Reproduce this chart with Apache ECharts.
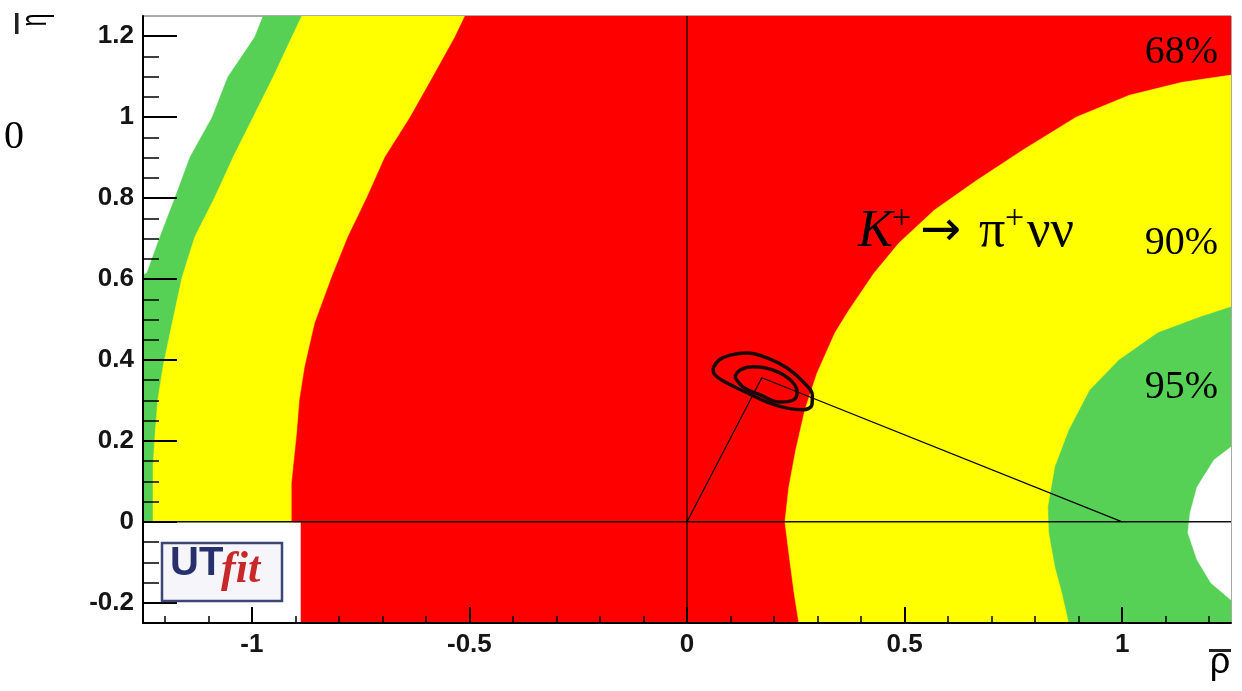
<!DOCTYPE html>
<html>
<head>
<meta charset="utf-8">
<script src="https://cdn.jsdelivr.net/npm/echarts@6/dist/echarts.min.js"></script>
<style>
  html, body { margin: 0; padding: 0; background: #fff; }
  #chart { width: 1242px; height: 691px; }
</style>
</head>
<body>
<div id="chart"></div>
<script>
// axis ranges (rho-bar, eta-bar)
const xRange = [-1.25, 1.25];
const yRange = [-0.25, 1.25];

// tick positions
const xMajorTicks = [-1, -0.5, 0, 0.5, 1];
const xMinorTicks = [-1.2, -1.1, -1, -0.9, -0.8, -0.7, -0.6, -0.5, -0.4, -0.3, -0.2, -0.1, 0,
  0.1, 0.2, 0.3, 0.4, 0.5, 0.6, 0.7, 0.8, 0.9, 1, 1.1, 1.2];
const yMajorTicks = [-0.2, 0, 0.2, 0.4, 0.6, 0.8, 1, 1.2];
const yMinorTicks = [-0.2, -0.15, -0.1, -0.05, 0, 0.05, 0.1, 0.15, 0.2, 0.25, 0.3, 0.35, 0.4,
  0.45, 0.5, 0.55, 0.6, 0.65, 0.7, 0.75, 0.8, 0.85, 0.9, 0.95, 1, 1.05, 1.1, 1.15, 1.2];

// K+ -> pi+ nu nu probability bands, boundaries
// left side (eta >= 0): white | green | yellow | red
const green95Left = [[-0.974, 1.25], [-0.993, 1.198], [-1.055, 1.099], [-1.091, 1.0], [-1.142, 0.901],
  [-1.176, 0.802], [-1.211, 0.704], [-1.241, 0.615], [-1.25, 0.61]];
const yellow90Left = [[-0.885, 1.25], [-0.908, 1.198], [-0.951, 1.099], [-0.997, 1.0], [-1.043, 0.901],
  [-1.085, 0.802], [-1.131, 0.704], [-1.16, 0.605], [-1.183, 0.491], [-1.204, 0.383], [-1.216, 0.301],
  [-1.222, 0.22], [-1.227, 0.136], [-1.227, 0]];
const red68Left = [[-0.51, 1.25], [-0.533, 1.198], [-0.584, 1.099], [-0.636, 1.0], [-0.694, 0.901],
  [-0.735, 0.802], [-0.779, 0.704], [-0.816, 0.605], [-0.855, 0.491], [-0.878, 0.383], [-0.89, 0.301],
  [-0.896, 0.22], [-0.908, 0.096], [-0.908, 0], [-0.887, 0], [-0.887, -0.25]];
// right side: red | yellow | green | white
const red68Right = [[1.25, 1.104], [1.137, 1.086], [1.016, 1.054], [0.894, 1.0], [0.772, 0.919],
  [0.666, 0.844], [0.568, 0.77], [0.487, 0.689], [0.43, 0.615], [0.372, 0.523], [0.34, 0.467],
  [0.299, 0.368], [0.271, 0.277], [0.25, 0.178], [0.234, 0.086], [0.225, 0], [0.234, -0.077],
  [0.246, -0.175], [0.257, -0.25]];
const yellow90Right = [[1.25, 0.531], [1.179, 0.506], [1.082, 0.467], [0.993, 0.4], [0.926, 0.326],
  [0.878, 0.227], [0.846, 0.136], [0.83, 0.037], [0.832, -0.027], [0.846, -0.111], [0.862, -0.175],
  [0.878, -0.25]];
const green95Right = [[1.25, 0.185], [1.211, 0.153], [1.172, 0.086], [1.156, 0.022], [1.151, -0.027],
  [1.172, -0.094], [1.204, -0.151], [1.25, -0.193]];

// UTfit contours (two closed curves)
const fitOuter = [[0.06, 0.38], [0.074, 0.4], [0.099, 0.412], [0.138, 0.417], [0.184, 0.405],
  [0.23, 0.38], [0.267, 0.346], [0.288, 0.312], [0.287, 0.289], [0.267, 0.277], [0.23, 0.281],
  [0.184, 0.296], [0.138, 0.319], [0.092, 0.343], [0.064, 0.363], [0.06, 0.38]];
const fitInner = [[0.11, 0.358], [0.122, 0.375], [0.152, 0.383], [0.198, 0.375], [0.237, 0.351],
  [0.253, 0.321], [0.244, 0.301], [0.214, 0.296], [0.168, 0.314], [0.129, 0.333], [0.11, 0.358]];

// unitarity triangle
const triangle = [[0, 0], [0.172, 0.356], [1, 0]];

const RED = '#ff0000';
const YELLOW = '#ffff00';
const GREEN = '#56d156';

// area to the right of a boundary, closed along the plot edge
const toRight = (pts, yLow) => pts.concat([[xRange[1], yLow], [xRange[1], pts[0][1]]]);

function bandSeries(points, color) {
  return {
    type: 'custom',
    coordinateSystem: 'cartesian2d',
    xAxisIndex: 0,
    yAxisIndex: 0,
    silent: true,
    clip: true,
    z: 1,
    data: [[0, 0]],
    renderItem: function(params, api) {
      return {
        type: 'polygon',
        shape: { points: points.map(p => api.coord(p)) },
        style: { fill: color, stroke: color, lineWidth: 0.5 },
      };
    },
  };
}

function lineSeries(data, color, width, smooth) {
  return {
    type: 'line',
    xAxisIndex: 0,
    yAxisIndex: 0,
    data: data,
    smooth: smooth || false,
    showSymbol: false,
    symbol: 'none',
    silent: true,
    z: 4,
    lineStyle: { color: color, width: width },
  };
}

const labelFont = {
  fontFamily: 'Liberation Sans',
  fontWeight: 'bold',
  fontSize: 26,
  color: '#151515',
};

function txt(x, y, text, font, align, extra) {
  return Object.assign({
    type: 'text', z: 20, x: x, y: y,
    style: {
      text: text, font: font, fill: '#000',
      align: align, verticalAlign: 'middle', textAlign: align, textVerticalAlign: 'middle',
    },
  }, extra || {});
}

const chart = echarts.init(document.getElementById('chart'));
const option = {
  backgroundColor: '#fff',
  animation: false,
  grid: {
    left: 143,
    top: 16,
    right: 11,
    bottom: 68,
    show: true,
    backgroundColor: '#fff',
    borderColor: '#555',
    borderWidth: 1,
    containLabel: false,
    outerBoundsMode: 'none',
  },
  xAxis: [
    {
      type: 'value',
      min: xRange[0],
      max: xRange[1],
      position: 'bottom',
      z: 10,
      axisLine: { show: true, onZero: false, lineStyle: { color: '#000', width: 2 } },
      axisTick: { show: true, inside: true, length: 16, customValues: xMajorTicks, lineStyle: { color: '#000', width: 2 } },
      axisLabel: Object.assign({ customValues: xMajorTicks, margin: 9 }, labelFont),
      splitLine: { show: false },
    },
    {
      type: 'value',
      min: xRange[0],
      max: xRange[1],
      position: 'bottom',
      z: 10,
      axisLine: { show: false, onZero: false },
      axisTick: { show: true, inside: true, length: 7, customValues: xMinorTicks, lineStyle: { color: '#000', width: 1.5 } },
      axisLabel: { show: false },
      splitLine: { show: false },
    },
  ],
  yAxis: [
    {
      type: 'value',
      min: yRange[0],
      max: yRange[1],
      position: 'left',
      z: 10,
      axisLine: { show: true, onZero: false, lineStyle: { color: '#000', width: 2 } },
      axisTick: { show: true, inside: true, length: 34, customValues: yMajorTicks, lineStyle: { color: '#000', width: 2 } },
      axisLabel: Object.assign({ customValues: yMajorTicks, margin: 9 }, labelFont),
      splitLine: { show: false },
    },
    {
      type: 'value',
      min: yRange[0],
      max: yRange[1],
      position: 'left',
      z: 10,
      axisLine: { show: false, onZero: false },
      axisTick: { show: true, inside: true, length: 16, customValues: yMinorTicks, lineStyle: { color: '#000', width: 1.5 } },
      axisLabel: { show: false },
      splitLine: { show: false },
    },
  ],
  series: [
    bandSeries(toRight(green95Left.concat([[xRange[0], 0]]), 0), GREEN),
    bandSeries(toRight(yellow90Left, 0), YELLOW),
    bandSeries(toRight(red68Left, yRange[0]), RED),
    bandSeries(toRight(red68Right, yRange[0]), YELLOW),
    bandSeries(toRight(yellow90Right, yRange[0]), GREEN),
    bandSeries(green95Right, '#fff'),
    // zero lines
    lineSeries([[xRange[0], 0], [xRange[1], 0]], '#111', 1.5),
    lineSeries([[0, yRange[0]], [0, yRange[1]]], '#2a0000', 1.5),
    lineSeries(triangle, '#000', 1.2),
    lineSeries(fitOuter, '#1a0808', 3.5, 0.4),
    lineSeries(fitInner, '#1a0808', 3.5, 0.4),
  ],
  graphic: [
    // eta-bar axis title (rotated)
    { type: 'rect', z: 20, shape: { x: 15, y: 13, width: 3.5, height: 21 }, style: { fill: '#222' } },
    txt(36, 20, 'η', '36px "Liberation Sans"', 'center', { rotation: Math.PI / 2, scaleX: 0.65 }),
    // rho-bar axis title
    { type: 'rect', z: 20, shape: { x: 1209, y: 649, width: 22, height: 3 }, style: { fill: '#222' } },
    txt(1220, 663, 'ρ', '36px "Liberation Sans"', 'center'),
    // cut-off label at the left border
    txt(24, 137, '0', '40px "Liberation Serif"', 'right'),
    // confidence levels
    txt(1218, 52, '68%', '40px "Liberation Serif"', 'right'),
    txt(1218, 243, '90%', '40px "Liberation Serif"', 'right'),
    txt(1218, 387, '95%', '40px "Liberation Serif"', 'right'),
    // K+ -> pi+ nu nu
    txt(858, 232, 'K', 'italic 52px "Liberation Serif"', 'left'),
    txt(892, 219, '+', '34px "Liberation Serif"', 'left'),
    txt(920, 232, '→', '49px "DejaVu Sans"', 'left'),
    txt(979, 232, 'π', '52px "Liberation Serif"', 'left'),
    txt(1005, 219, '+', '34px "Liberation Serif"', 'left'),
    txt(1027, 232, 'νν', '52px "Liberation Serif"', 'left'),
    // UTfit logo
    {
      type: 'rect', z: 20, shape: { x: 162, y: 543, width: 120, height: 58 },
      style: { fill: '#f6f6fa', stroke: '#3b4673', lineWidth: 2.5 },
    },
    {
      type: 'text', z: 21, x: 170, y: 564,
      style: { text: 'UT', font: 'bold 40px "Liberation Sans"', fill: '#28306c', align: 'left', verticalAlign: 'middle', textAlign: 'left', textVerticalAlign: 'middle' },
    },
    {
      type: 'text', z: 21, x: 221, y: 571,
      style: { text: 'fit', font: 'italic bold 44px "Liberation Serif"', fill: '#c8282a', align: 'left', verticalAlign: 'middle', textAlign: 'left', textVerticalAlign: 'middle' },
    },
  ],
};
chart.setOption(option);
</script>
</body>
</html>
